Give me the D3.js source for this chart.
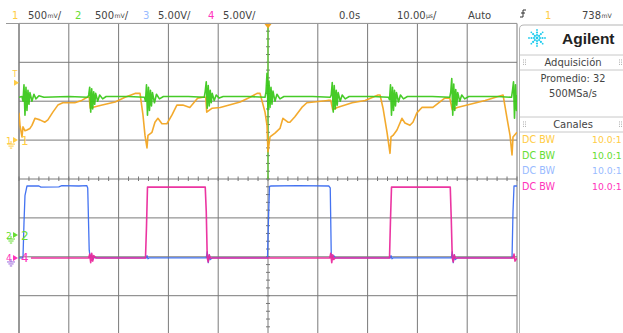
<!DOCTYPE html>
<html><head><meta charset="utf-8">
<script src="https://cdn.jsdelivr.net/npm/d3@7"></script>
<style>html,body{margin:0;padding:0;background:#fff;overflow:hidden}</style>
</head><body><svg id="c" width="623" height="333"></svg>
<script>
// ---------- DATA ----------
// time in µs (10 µs/div, 0 at centre), value in volts
const ch1 = [[-50.0,0.35],[-49.8,0.19],[-49.4,0.04],[-49.2,0.17],[-48.8,0.12],[-48.4,0.13],[-47.8,0.15],[-47.4,0.19],[-46.8,0.28],[-45.8,0.26],[-44.8,0.23],[-44.2,0.26],[-43.2,0.36],[-42.2,0.45],[-41.2,0.48],[-38.8,0.48],[-37.4,0.51],[-36.3,0.55],[-35.9,0.55],[-35.7,0.41],[-35.3,0.42],[-33.3,0.45],[-30.7,0.49],[-28.7,0.55],[-26.7,0.60],[-25.7,0.60],[-25.1,0.32],[-24.7,0.06],[-24.3,-0.10],[-24.1,0.06],[-23.3,0.10],[-22.7,0.23],[-22.1,0.28],[-21.3,0.21],[-20.3,0.21],[-19.3,0.32],[-18.3,0.45],[-17.1,0.45],[-15.7,0.42],[-14.1,0.54],[-13.1,0.55],[-12.5,0.55],[-12.3,0.36],[-11.2,0.41],[-9.6,0.42],[-5.6,0.49],[-3.6,0.55],[-2.2,0.60],[-1.6,0.60],[-0.6,0.36],[-0.2,0.19],[0.0,-0.15],[0.4,0.04],[1.4,0.09],[2.4,0.15],[3.0,0.28],[4.0,0.23],[4.4,0.23],[5.4,0.30],[6.8,0.42],[7.8,0.48],[12.0,0.51],[12.6,0.51],[13.0,0.39],[13.9,0.42],[16.9,0.48],[19.5,0.51],[22.1,0.58],[22.5,0.58],[23.1,0.41],[23.9,0.10],[24.5,-0.17],[24.7,0.04],[25.1,0.06],[25.9,0.13],[26.9,0.28],[27.5,0.22],[28.5,0.19],[29.1,0.23],[29.9,0.35],[30.9,0.42],[33.1,0.42],[35.5,0.54],[36.5,0.54],[37.0,0.39],[38.0,0.42],[40.6,0.46],[43.6,0.51],[47.2,0.58],[48.0,0.28],[48.6,0.06],[49.0,-0.19],[49.2,0.04],[50.0,0.10]];

const ch2 = [[-50,1.77],[-49.4,1.78],[-49.2,1.72],[-49.0,1.93],[-48.8,1.54],[-48.6,1.90],[-48.4,1.60],[-48.2,1.86],[-48.0,1.68],[-47.8,1.83],[-47.4,1.72],[-47.0,1.81],[-46.6,1.75],[-46.0,1.79],[-45,1.77],[-40,1.78],[-36.2,1.77],
[-36.0,1.80],[-35.8,1.90],[-35.6,1.58],[-35.4,1.88],[-35.2,1.62],[-35.0,1.84],[-34.8,1.68],[-34.6,1.82],[-34.2,1.72],[-33.8,1.80],[-33.2,1.75],[-32.5,1.78],[-28,1.78],[-24.8,1.77],
[-24.6,1.72],[-24.4,1.93],[-24.2,1.54],[-24.0,1.90],[-23.8,1.60],[-23.6,1.86],[-23.4,1.66],[-23.2,1.83],[-22.8,1.70],[-22.4,1.81],[-21.8,1.75],[-21,1.78],[-16,1.78],[-12.8,1.77],
[-12.6,1.85],[-12.4,1.97],[-12.2,1.63],[-12.0,1.92],[-11.8,1.66],[-11.6,1.86],[-11.4,1.70],[-11.2,1.82],[-10.8,1.73],[-10.4,1.80],[-9.8,1.76],[-9,1.78],[-4,1.78],[-0.6,1.77],
[-0.4,1.84],[-0.2,2.08],[0,1.61],[0.2,1.98],[0.4,1.64],[0.6,1.90],[0.8,1.68],[1.0,1.85],[1.4,1.72],[1.8,1.81],[2.4,1.75],[3.2,1.78],[9,1.78],[12.5,1.77],
[12.7,1.80],[12.9,1.96],[13.1,1.58],[13.3,1.92],[13.5,1.62],[13.7,1.86],[13.9,1.67],[14.1,1.83],[14.5,1.72],[14.9,1.80],[15.5,1.75],[16.3,1.78],[21,1.78],[24.2,1.77],
[24.4,1.74],[24.6,1.93],[24.8,1.54],[25.0,1.90],[25.2,1.60],[25.4,1.86],[25.6,1.66],[25.8,1.83],[26.2,1.71],[26.6,1.80],[27.2,1.75],[28,1.78],[33,1.78],[36.5,1.77],
[36.7,1.84],[36.9,2.01],[37.1,1.54],[37.3,1.94],[37.5,1.60],[37.7,1.87],[37.9,1.67],[38.1,1.83],[38.5,1.72],[38.9,1.80],[39.5,1.75],[40.3,1.78],[46,1.78],[48.9,1.77],
[49.1,1.86],[49.3,1.97],[49.5,1.50],[49.7,1.93],[49.9,1.60],[50,1.80]];

const ch3 = [[-50,0],[-49.2,0],[-49.0,4.5],[-48.8,8.0],[-48.4,9.25],[-46,9.25],[-45.6,9.1],[-42,9.15],[-41.4,9.3],[-38,9.25],[-36.4,9.3],[-36.2,9.0],[-35.9,1.0],[-35.7,0],[-35.4,0.4],[-35.2,-0.2],[-34.8,0.1],[-34.4,0],[-24.4,0],[-24.3,0.3],[-24.1,-0.1],[-23.9,0],[-12.4,0],[-12.2,0.8],[-12.0,-0.6],[-11.8,0.4],[-11.6,-0.2],[-11.2,0],[-0.1,0],[0.1,5],[0.3,9.2],[0.6,9.25],[6,9.3],[12.2,9.25],[12.5,9.0],[12.7,0.5],[12.9,0],[13.2,0.3],[13.5,0],[24.6,0],[24.7,0.3],[24.9,-0.1],[25.1,0],[36.8,0],[37.0,0.8],[37.2,-0.6],[37.4,0.4],[37.6,-0.2],[38.0,0],[49.0,0],[49.2,6],[49.4,9.25],[50,9.25]];

const ch4 = [[-47.6,0],[-36.0,0],[-35.8,0.5],[-35.6,-0.6],[-35.4,0.6],[-35.2,-0.4],[-35.0,0.3],[-34.6,0],[-24.6,0],[-24.4,4],[-24.2,9.1],[-12.6,9.1],[-12.4,6],[-12.2,0],[-12.0,-0.5],[-11.8,0.4],[-11.6,0],[12.4,0],[12.6,0.6],[12.8,-0.6],[13.0,0.4],[13.2,-0.2],[13.5,0],[24.4,0],[24.6,5],[24.8,9.1],[36.6,9.1],[36.8,5],[37.0,0],[37.2,-0.5],[37.4,0.4],[37.6,0],[49.2,0],[49.4,0.5],[49.6,-0.4],[50,0]];

const channelNames = ["1","2","3","4"];
const channelScales = [0.5, 0.5, 5, 5];          // V/div
const channelOffsets = [1.0, -1.44, -2.03, -2.03]; // ground position in divisions
const channelScaleLabels = ["500","500","5.00","5.00"];
const timeLabels = {delay:"0.0s", base:"10.00", mode:"Auto", trigCh:"1", trigLevel:"738"};
const panelAcq = ["Promedio: 32","500MSa/s"];
const panelCh = ["DC BW","DC BW","DC BW","DC BW"];
const panelProbe = ["10.0:1","10.0:1","10.0:1","10.0:1"];

// ---------- STYLE ----------
const traceColors = ["#f2a522","#3cc81c","#3a6cf0","#ea2a9c"];
const labelColors = ["#ffcc44","#66dd33","#99bbff","#ff33bb"];
const FONT = "DejaVu Sans, sans-serif";

const svg = d3.select("#c");
const x = d3.scaleLinear().domain([-50,50]).range([19,517]);
const ydiv = d3.scaleLinear().domain([-4,4]).range([334.6,23.4]);

// grid
const g = svg.append("g");
const divs = d3.range(-5,6);
g.selectAll("line.v").data(divs).join("line")
  .attr("x1",d=>x(d*10)).attr("x2",d=>x(d*10)).attr("y1",23.5).attr("y2",333)
  .attr("stroke",d=>d===-5?"#777":"#7a7a7a").attr("stroke-width",d=>d===-5?1.5:1);
g.selectAll("line.h").data(d3.range(-4,5)).join("line")
  .attr("x1",19).attr("x2",517).attr("y1",d=>ydiv(d)).attr("y2",d=>ydiv(d))
  .attr("stroke",d=>d===4?"#999":"#7a7a7a").attr("stroke-width",1);
svg.append("line").attr("x1",6).attr("x2",517).attr("y1",23.5).attr("y2",23.5).attr("stroke","#999");
// center ticks
const tx = d3.range(-50,50.01,2);
g.selectAll("line.tx").data(tx).join("line")
  .attr("x1",d=>x(d)).attr("x2",d=>x(d)).attr("y1",ydiv(0)-2.5).attr("y2",ydiv(0)+2)
  .attr("stroke","#777");
const ty = d3.range(-4,4.01,0.2);
g.selectAll("line.ty").data(ty).join("line")
  .attr("x1",x(0)-2).attr("x2",x(0)+2).attr("y1",d=>ydiv(d)).attr("y2",d=>ydiv(d))
  .attr("stroke","#777");
// green centre highlight
svg.append("line").attr("x1",x(0)).attr("x2",x(0)).attr("y1",24).attr("y2",ydiv(0))
  .attr("stroke","#55cc22").attr("stroke-width",1.2);

// traces
const data = [ch1,ch2,ch3,ch4];
svg.append("defs").append("clipPath").attr("id","pc").append("rect")
  .attr("x",19).attr("y",24).attr("width",498).attr("height",310);
const tg = svg.append("g").attr("clip-path","url(#pc)");
[0,1,2,3].forEach(i=>{
  const line = d3.line().x(d=>x(d[0])).y(d=>ydiv(channelOffsets[i]+d[1]/channelScales[i]));
  tg.append("path").datum(data[i]).attr("d",line).attr("fill","none")
    .attr("stroke",traceColors[i]).attr("stroke-width",i===2?1.3:1.6)
    .attr("stroke-linejoin","round").attr("opacity",0.95);
});

// trigger marker at top
svg.append("path").attr("d",`M${x(0)-3.5},24 L${x(0)+3.5},24 L${x(0)},28.5 Z`).attr("fill","#f2a522");

// left markers
function ground(gx,gy,col){
  svg.append("path").attr("d",`M${gx},${gy} v3 M${gx-4},${gy+3} h8 M${gx-2.6},${gy+5} h5.2 M${gx-1.2},${gy+7} h2.4`)
    .attr("stroke",col).attr("stroke-width",1).attr("fill","none");
}
function marker(i,yy,col,gcol){
  svg.append("text").attr("x",6).attr("y",yy+3.5).attr("font-family",FONT).attr("font-size",9).attr("fill",col).text(channelNames[i]);
  svg.append("path").attr("d",`M13,${yy-3} L18,${yy} L13,${yy+3} Z`).attr("fill",col);
  svg.append("text").attr("x",21).attr("y",yy+4.5).attr("font-family",FONT).attr("font-size",12).attr("fill",col).text(channelNames[i]);
  ground(11,yy+1,gcol||col);
}
marker(0,ydiv(channelOffsets[0]),labelColors[0]);
marker(1,ydiv(channelOffsets[1]),labelColors[1]);
marker(3,ydiv(channelOffsets[3]),labelColors[3],"#9a66dd");
// trigger level marker
const trigY = ydiv(channelOffsets[0]+0.738/channelScales[0]);
svg.append("text").attr("x",12.5).attr("y",trigY-6).attr("font-family",FONT).attr("font-size",8).attr("fill",labelColors[0]).text("T");
svg.append("path").attr("d",`M14,${trigY-3} L19,${trigY} L14,${trigY+3} Z`).attr("fill",labelColors[0]);

// top bar
const topG = svg.append("g").attr("font-family",FONT).attr("font-size",10).attr("fill","#444");
function unitText(xx, num, unit, slash){
  const t = topG.append("text").attr("x",xx).attr("y",19);
  t.append("tspan").text(num);
  t.append("tspan").attr("font-size",6.2).attr("dy",-1.5).attr("dx",0.3).text(unit);
  if(slash) t.append("tspan").attr("font-size",10).attr("dy",1.5).text("/");
}
const chX = [12,75,143,208], valX=[28,95,158,223];
[0,1,2,3].forEach(i=>{
  topG.append("text").attr("x",chX[i]).attr("y",19).attr("fill",labelColors[i]).text(channelNames[i]);
  if(i<2) unitText(valX[i], channelScaleLabels[i], "mV",true);
  else topG.append("text").attr("x",valX[i]).attr("y",19).text(channelScaleLabels[i]+"V/");
});
topG.append("text").attr("x",339).attr("y",19).text(timeLabels.delay);
unitText(397, timeLabels.base, "µs",true);
topG.append("text").attr("x",468).attr("y",19).text(timeLabels.mode);
svg.append("path").attr("d","M520,17 h3 v-7 h3 M521,13 h4").attr("stroke","#333").attr("fill","none").attr("stroke-width",1);
topG.append("text").attr("x",545).attr("y",19).attr("fill",labelColors[0]).text(timeLabels.trigCh);
unitText(582, timeLabels.trigLevel, "mV",false);

// right panel
const P = svg.append("g").attr("font-family",FONT);
P.append("path").attr("d","M519.5,333 V29 Q519.5,25 524,25 H623").attr("fill","#fff").attr("stroke","#b5b5b5");
// logo
const lc = [537,38];
const spokes = d3.range(0,360,45);
spokes.forEach(a=>{
  const r = a*Math.PI/180;
  [3,5.5,8].forEach((rr,k)=>{
    P.append("circle").attr("cx",lc[0]+Math.cos(r)*rr).attr("cy",lc[1]+Math.sin(r)*rr).attr("r",k===2?0.9:1.1).attr("fill","#22ccee");
  });
});
P.append("circle").attr("cx",lc[0]).attr("cy",lc[1]).attr("r",1.4).attr("fill","#22ccee");
P.append("text").attr("x",562).attr("y",44).attr("font-family","Liberation Sans, Arial, sans-serif").attr("font-weight","bold").attr("font-size",15.5).attr("fill","#222").text("Agilent");
function header(y1,y2,label){
  P.append("line").attr("x1",520).attr("x2",623).attr("y1",y1).attr("y2",y1).attr("stroke","#c8c8c8");
  P.append("line").attr("x1",520).attr("x2",623).attr("y1",y2).attr("y2",y2).attr("stroke","#c8c8c8");
  P.append("text").attr("x",573).attr("y",(y1+y2)/2+3.5).attr("text-anchor","middle").attr("font-size",10).attr("fill","#444").text(label);
  [523,619].forEach(gx=>{
    for(let r=0;r<3;r++)for(let c=0;c<2;c++)
      P.append("rect").attr("x",gx+c*2).attr("y",(y1+y2)/2-3+r*2.2).attr("width",0.9).attr("height",0.9).attr("fill","#999");
  });
}
header(55,70,"Adquisición");
P.append("text").attr("x",573).attr("y",82).attr("text-anchor","middle").attr("font-size",9.8).attr("fill","#444").text(panelAcq[0]);
P.append("text").attr("x",573).attr("y",97).attr("text-anchor","middle").attr("font-size",9.8).attr("fill","#444").text(panelAcq[1]);
header(117,132,"Canales");
const rowY=[143,158.5,174,189.5];
[0,1,2,3].forEach(i=>{
  P.append("text").attr("x",522).attr("y",rowY[i]).attr("font-size",9.6).attr("fill",labelColors[i]).text(panelCh[i]);
  P.append("text").attr("x",592).attr("y",rowY[i]).attr("font-size",9.3).attr("fill",labelColors[i]).text(panelProbe[i]);
});
</script></body></html>
